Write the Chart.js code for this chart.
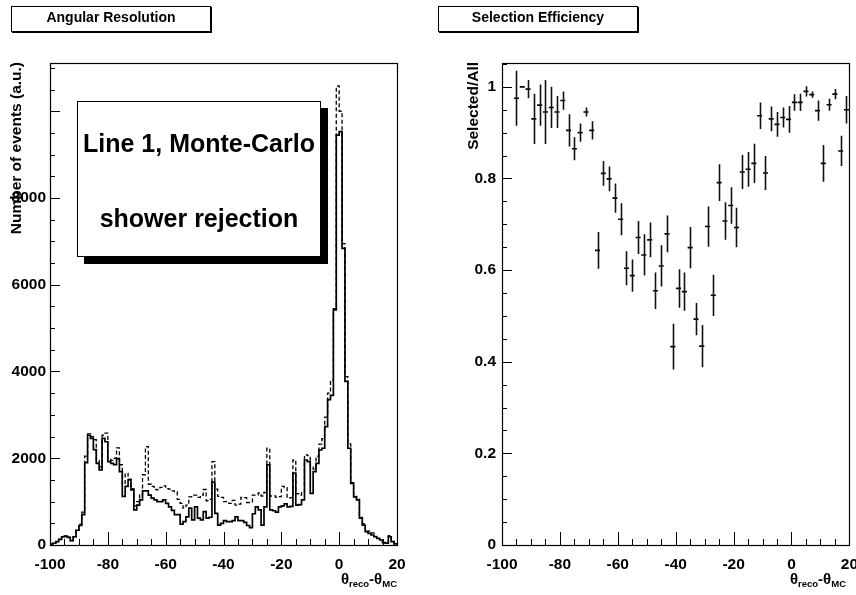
<!DOCTYPE html>
<html>
<head>
<meta charset="utf-8">
<script src="https://cdn.jsdelivr.net/npm/chart.js@4/dist/chart.umd.min.js"></script>
<style>
html,body{margin:0;padding:0;width:856px;height:595px;overflow:hidden;background:#fff;
  font-family:"Liberation Sans",Arial,Helvetica,sans-serif;color:#000;}
canvas{position:absolute;top:0;}
.title{position:absolute;border:1px solid #000;background:#fff;box-sizing:border-box;box-shadow:1px 1px 0 #000;
  width:200px;height:26px;top:6px;font-weight:bold;font-size:14px;line-height:14px;text-align:center;}
.title span{position:absolute;left:0;right:0;top:3px;}
.ytitle{position:absolute;width:300px;transform-origin:0 0;transform:rotate(-90deg);
  text-align:right;font-weight:bold;font-size:15.5px;line-height:16px;white-space:nowrap;}
.xtitle{position:absolute;font-weight:bold;font-size:15px;line-height:15px;white-space:nowrap;}
.xtitle sub{font-size:9.5px;vertical-align:-3px;line-height:0;}
#shadow{position:absolute;left:84px;top:108px;width:244px;height:156px;background:#000;}
#pave{position:absolute;left:77px;top:101px;width:244px;height:156px;background:#fff;border:1px solid #000;box-sizing:border-box;}
.pl{position:absolute;left:-10px;right:-10px;text-align:center;font-weight:bold;font-size:25px;line-height:25px;white-space:nowrap;}
</style>
</head>
<body>
<canvas id="c1" width="428" height="595" style="left:0"></canvas>
<canvas id="c2" width="440" height="595" style="left:428px"></canvas>

<div class="title" style="left:11px"><span>Angular Resolution</span></div>
<div class="title" style="left:438px"><span>Selection Efficiency</span></div>

<div class="ytitle" style="left:8px;top:362px">Number of events (a.u.)</div>
<div class="ytitle" style="left:465px;top:362px">Selected/All</div>

<div class="xtitle" style="right:459px;top:571px">θ<sub>reco</sub>-θ<sub>MC</sub></div>
<div class="xtitle" style="right:10px;top:571px">θ<sub>reco</sub>-θ<sub>MC</sub></div>

<div id="shadow"></div>
<div id="pave">
  <div class="pl" style="top:29px">Line 1, Monte-Carlo</div>
  <div class="pl" style="top:104px">shower rejection</div>
</div>

<script>
// ---------------- data ----------------
// histogram: 1-degree bins from -100 to 20 (low edges)
const binLowEdges = Array.from({length: 120}, (_, i) => -100 + i);
const histUpperEdge = 20;

// after shower rejection (solid)
const solidCounts = [
  25, 40, 80, 130, 190, 205, 175, 100, 190, 340,
  450, 700, 1900, 2530, 2460, 2200, 1880, 1730, 2460, 2380,
  1920, 1880, 1850, 1990, 1690, 1120, 1350, 1500, 1270, 810,
  920, 1040, 1250, 1250, 1150, 1080, 1040, 1000, 1000, 1040,
  960, 880, 800, 700, 700, 480, 540, 650, 850, 580,
  880, 620, 580, 770, 620, 640, 1450, 730, 460, 500,
  560, 540, 540, 560, 650, 560, 560, 520, 450, 400,
  720, 880, 810, 460, 880, 1845, 810, 790, 760, 880,
  900, 950, 880, 890, 1660, 920, 930, 1040, 1960, 1920,
  1190, 1690, 1880, 2190, 2230, 2730, 3350, 3450, 5420, 9450,
  9530, 6840, 3770, 2230, 1420, 1110, 1040, 620, 460, 310,
  270, 230, 190, 150, 115, 55, 40, 190, 80, 25
];

// all events (dashed)
const dashedCounts = [
  25, 40, 80, 130, 190, 210, 175, 100, 192, 340,
  480, 760, 2050, 2560, 2500, 2430, 1950, 1800, 2530, 2580,
  1980, 1950, 2000, 2240, 1850, 1400, 1650, 1520, 1300, 900,
  1000, 1170, 1620, 2270, 1400, 1350, 1280, 1270, 1330, 1365,
  1300, 1290, 1250, 1230, 1050, 960, 850, 920, 1110, 1150,
  1150, 1100, 1150, 1280, 1020, 1050, 1920, 1290, 1120, 1100,
  1000, 964, 960, 1030, 920, 944, 1100, 1090, 980, 980,
  1150, 1150, 1200, 1130, 1215, 2230, 1130, 1133, 1100, 1113,
  1350, 1320, 1080, 1094, 1960, 1186, 1150, 1215, 2080, 2060,
  1800, 1747, 2050, 2326, 2450, 2950, 3500, 3800, 5450, 10583,
  10000, 6946, 3880, 2330, 1435, 1121, 1055, 634, 490, 322,
  320, 280, 198, 156, 117, 56, 50, 217, 84, 26
];

// efficiency: 2-degree bins
const effCenters = [
  -95, -93, -91, -89, -87, -85, -83, -81, -79, -77,
  -75, -73, -71, -69, -67, -65, -63, -61, -59, -57,
  -55, -53, -51, -49, -47, -45, -43, -41, -39, -37,
  -35, -33, -31, -29, -27, -25, -23, -21, -19, -17,
  -15, -13, -11, -9, -7, -5, -3, -1, 1, 3,
  5, 7, 9, 11, 13, 15, 17, 19
];
const effValues = [
  0.975, 1.0, 0.995, 0.93, 0.96, 0.945, 0.955, 0.945, 0.97, 0.905,
  0.865, 0.90, 0.945, 0.905, 0.643, 0.811, 0.799, 0.757, 0.711, 0.604,
  0.588, 0.671, 0.633, 0.666, 0.555, 0.609, 0.679, 0.433, 0.560, 0.553,
  0.649, 0.493, 0.434, 0.695, 0.545, 0.791, 0.707, 0.741, 0.693, 0.814,
  0.820, 0.833, 0.937, 0.812, 0.930, 0.918, 0.933, 0.929, 0.966, 0.966,
  0.990, 0.983, 0.948, 0.833, 0.961, 0.984, 0.860, 0.950
];
const effErrors = [
  0.06, 0.0, 0.02, 0.055, 0.045, 0.07, 0.045, 0.035, 0.02, 0.035,
  0.025, 0.02, 0.01, 0.02, 0.04, 0.027, 0.027, 0.032, 0.035, 0.037,
  0.035, 0.036, 0.045, 0.038, 0.04, 0.045, 0.04, 0.05, 0.042, 0.042,
  0.045, 0.035, 0.046, 0.044, 0.045, 0.04, 0.041, 0.04, 0.043, 0.037,
  0.038, 0.043, 0.029, 0.037, 0.027, 0.027, 0.022, 0.029, 0.018, 0.019,
  0.011, 0.007, 0.022, 0.04, 0.013, 0.011, 0.033, 0.03
];

// tick labels
const xTickLabels = [-100, -80, -60, -40, -20, 0, 20];
const yLeftTickLabels = [0, 2000, 4000, 6000, 8000];
const yRightTickLabels = [0, 0.2, 0.4, 0.6, 0.8, 1];

// ---------------- helpers ----------------
function histPoints(counts) {
  const pts = counts.map((c, i) => ({x: binLowEdges[i], y: c}));
  pts.push({x: histUpperEdge, y: counts[counts.length - 1]});
  return pts;
}
function fmt(v) { return String(Math.round(v * 1000) / 1000); }

const axisDeco = {
  id: 'axisDeco',
  afterDatasetsDraw(chart, args, o) {
    const {ctx, chartArea: a, scales: {x, y}} = chart;
    ctx.save();
    ctx.strokeStyle = '#000';
    ctx.lineWidth = 1;
    ctx.beginPath();
    for (let v = o.xMin; v <= o.xMax + 1e-9; v += o.xMinor) {
      const px = Math.round(x.getPixelForValue(v)) + 0.5;
      const r = v / o.xMajor;
      const len = Math.abs(r - Math.round(r)) < 1e-6 ? o.xMajorLen : o.xMinorLen;
      ctx.moveTo(px, a.bottom); ctx.lineTo(px, a.bottom - len);
    }
    for (let v = o.yMin; v <= o.yMax + 1e-9; v += o.yMinor) {
      const py = Math.round(y.getPixelForValue(v)) + 0.5;
      const r = v / o.yMajor;
      const len = Math.abs(r - Math.round(r)) < 1e-6 ? o.yMajorLen : o.yMinorLen;
      ctx.moveTo(a.left, py); ctx.lineTo(a.left + len, py);
    }
    ctx.stroke();
    ctx.lineWidth = 1.2;
    ctx.strokeRect(Math.round(a.left) + 0.5, Math.round(a.top) + 0.5,
                   Math.round(a.right - a.left), Math.round(a.bottom - a.top));
    ctx.restore();
  }
};

const errorBars = {
  id: 'errorBars',
  afterDatasetsDraw(chart) {
    const {ctx, chartArea: a, scales: {x, y}} = chart;
    ctx.save();
    ctx.strokeStyle = '#111';
    ctx.lineWidth = 1.6;
    ctx.beginPath();
    effCenters.forEach((c, i) => {
      const e = effErrors[i];
      if (e <= 0) return;
      const px = Math.round(x.getPixelForValue(c)) + 0.5;
      const y1 = Math.max(a.top, y.getPixelForValue(effValues[i] + e));
      const y2 = Math.min(a.bottom, y.getPixelForValue(effValues[i] - e));
      ctx.moveTo(px, y1); ctx.lineTo(px, y2);
    });
    ctx.stroke();
    ctx.restore();
  }
};

Chart.defaults.font.family = '"Liberation Sans", Arial, Helvetica, sans-serif';
Chart.defaults.color = '#000';

const tickFont = {size: 15.5, weight: 'bold'};

function fixedTicks(list) {
  return function (s) { s.ticks = list.map(v => ({value: v})); };
}

function xScale() {
  return {
    type: 'linear', min: -100, max: 20,
    afterFit(s) { s.height = 50; },
    afterBuildTicks: fixedTicks(xTickLabels),
    grid: {display: false, drawTicks: false},
    border: {display: false},
    ticks: {autoSkip: false, maxRotation: 0, minRotation: 0, padding: 10,
            font: tickFont, color: '#000', callback: v => fmt(v)}
  };
}

// ---------------- left chart ----------------
new Chart(document.getElementById('c1'), {
  type: 'line',
  data: {
    datasets: [
      {data: histPoints(dashedCounts), stepped: 'before', borderColor: '#000', borderWidth: 1.3,
       borderDash: [4, 2.5], pointRadius: 0, fill: false},
      {data: histPoints(solidCounts), stepped: 'before', borderColor: '#000', borderWidth: 1.7,
       pointRadius: 0, fill: false}
    ]
  },
  options: {
    responsive: false, animation: false, devicePixelRatio: 1,
    layout: {padding: {top: 63, right: 31, left: 0, bottom: 0}},
    plugins: {
      legend: {display: false}, tooltip: {enabled: false},
      axisDeco: {xMin: -100, xMax: 20, xMinor: 5, xMajor: 20, xMajorLen: 13, xMinorLen: 6,
                 yMin: 0, yMax: 11112, yMinor: 500, yMajor: 2000, yMajorLen: 10, yMinorLen: 5}
    },
    scales: {
      x: xScale(),
      y: {
        type: 'linear', min: 0, max: 11112,
        afterFit(s) { s.width = 50; },
        afterBuildTicks: fixedTicks(yLeftTickLabels),
        grid: {display: false, drawTicks: false},
        border: {display: false},
        ticks: {autoSkip: false, padding: 4, font: tickFont, color: '#000', callback: v => fmt(v)}
      }
    }
  },
  plugins: [axisDeco]
});

// ---------------- right chart ----------------
new Chart(document.getElementById('c2'), {
  type: 'scatter',
  data: {
    datasets: [{
      data: effCenters.map((c, i) => ({x: c, y: effValues[i]})),
      pointStyle: 'line', pointRadius: 2.5, pointBorderWidth: 1.6,
      borderColor: '#000', backgroundColor: '#000', showLine: false
    }]
  },
  options: {
    responsive: false, animation: false, devicePixelRatio: 1,
    layout: {padding: {top: 63, right: 17, left: 0, bottom: 0}},
    plugins: {
      legend: {display: false}, tooltip: {enabled: false},
      axisDeco: {xMin: -100, xMax: 20, xMinor: 5, xMajor: 20, xMajorLen: 13, xMinorLen: 6,
                 yMin: 0, yMax: 1.052, yMinor: 0.05, yMajor: 0.2, yMajorLen: 10, yMinorLen: 5}
    },
    scales: {
      x: xScale(),
      y: {
        type: 'linear', min: 0, max: 1.052,
        afterFit(s) { s.width = 74; },
        afterBuildTicks: fixedTicks(yRightTickLabels),
        grid: {display: false, drawTicks: false},
        border: {display: false},
        ticks: {autoSkip: false, padding: 6, font: tickFont, color: '#000', callback: v => fmt(v)}
      }
    }
  },
  plugins: [axisDeco, errorBars]
});
</script>
</body>
</html>
